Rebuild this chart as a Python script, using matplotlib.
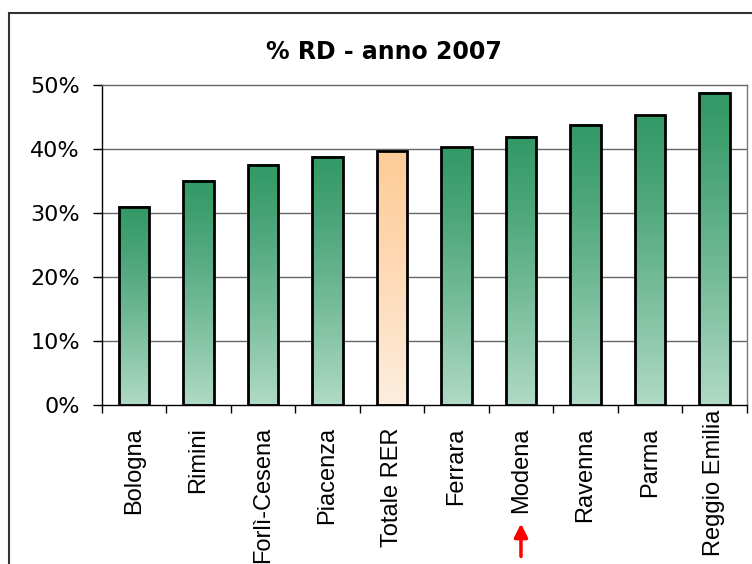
import matplotlib
matplotlib.use("Agg")
import matplotlib.pyplot as plt
import numpy as np
from matplotlib.colors import to_rgb
from matplotlib.patches import Rectangle
from matplotlib.transforms import ScaledTranslation

# raccolta differenziata per provincia, anno 2007 (%)
comuni = ["Bologna", "Rimini", "Forlì-Cesena", "Piacenza", "Totale RER",
          "Ferrara", "Modena", "Ravenna", "Parma", "Reggio Emilia"]
rd_2007 = [31.0, 35.0, 37.5, 38.8, 39.7, 40.3, 41.9, 43.8, 45.3, 48.8]
y_ticks = [0, 10, 20, 30, 40, 50]

verde = ("#339966", "#b0dac6")
arancio = ("#ffcc99", "#fdeedf")


def gradient(top, bottom, n=256):
    # sfumatura che resta piena in alto e schiarisce verso la base
    t = np.linspace(0, 1, n)[:, None] ** 1.2
    c0 = np.array(to_rgb(top))
    c1 = np.array(to_rgb(bottom))
    return (c0 * (1 - t) + c1 * t)[:, None, :]


fig = plt.figure(figsize=(7.52, 5.64), dpi=100)
ax = fig.add_axes([0.1352, 0.2819, 0.8578, 0.5674])

x = np.arange(len(comuni))
bars = ax.bar(x, rd_2007, width=0.47, fill=False, edgecolor="black",
              linewidth=2, zorder=3)
for b, nome in zip(bars, comuni):
    top, bottom = arancio if nome == "Totale RER" else verde
    ax.imshow(gradient(top, bottom),
              extent=[b.get_x(), b.get_x() + b.get_width(), 0, b.get_height()],
              aspect="auto", interpolation="bilinear", zorder=2)

ax.set_xlim(-0.5, len(comuni) - 0.5)
ax.set_ylim(0, 50)

for v in y_ticks[1:-1]:
    ax.axhline(v, color="#666666", linewidth=1, zorder=1)

ax.spines["top"].set_color("#666666")
ax.spines["right"].set_color("#777777")
ax.spines["left"].set_color("black")
ax.spines["bottom"].set_color("black")
for s in ax.spines.values():
    s.set_linewidth(1)

ax.set_yticks(y_ticks)
ax.set_yticklabels([f"{v}%" for v in y_ticks], fontsize=16,
                   family="DejaVu Sans")
ax.tick_params(axis="y", length=6.3, width=1, pad=9.5, direction="out")

ax.set_xticks(np.arange(-0.5, len(comuni), 1))
ax.set_xticklabels([])
ax.tick_params(axis="x", which="major", length=5.5, width=1, direction="out")
ax.set_xticks(x, comuni, minor=True)
ax.tick_params(axis="x", which="minor", length=0, pad=16, labelsize=17,
               labelrotation=90)
for lab in ax.get_xticklabels(minor=True):
    lab.set_family("Liberation Sans")
    if lab.get_text() == "Reggio Emilia":
        # etichetta lunga: alzata per stare nel riquadro
        lab.set_transform(lab.get_transform() +
                          ScaledTranslation(0, 0.18, fig.dpi_scale_trans))

# freccia sotto Modena
i_mod = comuni.index("Modena")
ax.annotate("", xy=(i_mod, -0.362), xytext=(i_mod, -0.482),
            xycoords=("data", "axes fraction"),
            textcoords=("data", "axes fraction"),
            arrowprops=dict(arrowstyle="-|>,head_length=0.8,head_width=0.4",
                            color="red", lw=2.5),
            annotation_clip=False)

fig.text(0.511, 0.908, "% RD - anno 2007", ha="center", va="center",
         fontsize=17, fontweight="bold", family="DejaVu Sans")

fig.add_artist(Rectangle((9 / 752, -0.05), 1.1, 1.027,
                         transform=fig.transFigure, fill=False,
                         edgecolor="#333333", linewidth=1.5))

fig.savefig("out.png", dpi=100)
